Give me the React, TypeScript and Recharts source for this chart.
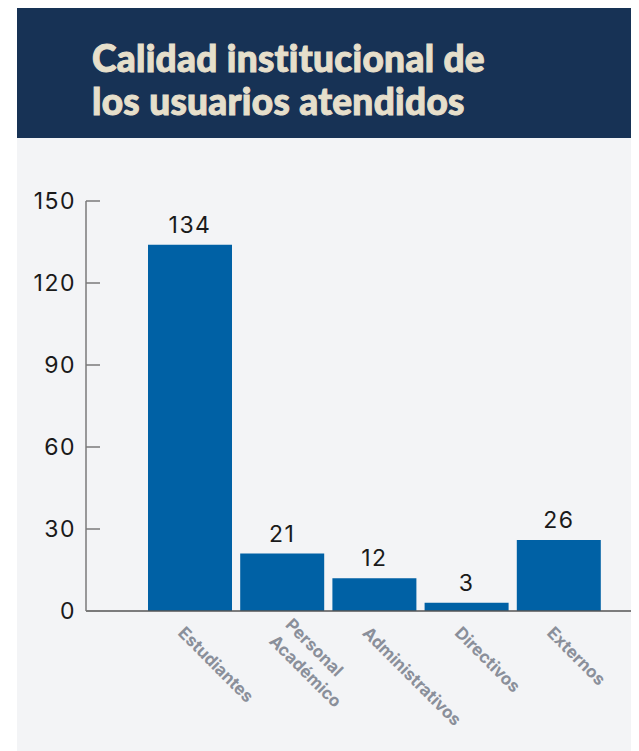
import React from 'react';
import { BarChart, Bar, XAxis, YAxis, LabelList } from 'recharts';

const categories = ['Estudiantes', 'Personal\nAcadémico', 'Administrativos', 'Directivos', 'Externos'];
const values = [134, 21, 12, 3, 26];
const yTicks = [0, 30, 60, 90, 120, 150];
const titleLines = ['Calidad institucional de', 'los usuarios atendidos'];

const data = categories.map((c, i) => ({ name: c, value: values[i] }));

const NUM_FONT = 'Inter, "Noto Sans", sans-serif';

const YTick = (props: any) => {
  const { x, y, payload } = props;
  return (
    <g>
      <line x1={x} x2={x + 14} y1={y} y2={y} stroke="#7a7a7a" strokeWidth={1.5} />
      <text x={x - 10} y={y} dy="0.36em" textAnchor="end" fontFamily={NUM_FONT} fontSize={23} letterSpacing={1.5} fill="#1a1a1a">
        {payload.value}
      </text>
    </g>
  );
};

const EndTick = (props: any) => {
  const { x, y } = props;
  return <line x1={x} x2={x} y1={y} y2={y - 10} stroke="#555" strokeWidth={1.5} />;
};

const XTick = (props: any) => {
  const { x, y, payload } = props;
  const lines = String(payload.value).split('\n');
  const lh = 23;
  const dx = lines.length > 1 ? -6 : -13;
  return (
    <text
      transform={`translate(${x + dx},${y + 23}) rotate(45)`}
      textAnchor="start"
      fontFamily={NUM_FONT}
      fontWeight={700}
      fontSize={17}
      fill="#8a8f9a"
    >
      {lines.map((l, i) => (
        <tspan key={i} x={0} dy={i === 0 ? (-(lines.length - 1) / 2) * lh : lh}>
          {l}
        </tspan>
      ))}
    </text>
  );
};

export default function App() {
  return (
    <div style={{ position: 'relative', width: 631, height: 743 }}>
      <div
        style={{
          position: 'absolute',
          left: 9,
          top: 0,
          width: 622,
          height: 130,
          background: '#173255',
        }}
      >
        <div
          style={{
            position: 'absolute',
            left: 75,
            top: 28,
            fontFamily: 'Lato, sans-serif',
            fontWeight: 900,
            fontSize: 37,
            lineHeight: '43px',
            letterSpacing: 0.3,
            color: '#e6dfcb',
            WebkitTextStroke: '1px #e6dfcb',
            whiteSpace: 'nowrap',
          }}
        >
          {titleLines.map((t, i) => (
            <div key={i}>{t}</div>
          ))}
        </div>
      </div>
      <div
        style={{
          position: 'absolute',
          left: 9,
          top: 130,
          width: 622,
          height: 613,
          background: '#f3f4f6',
        }}
      >
        <BarChart
          width={622}
          height={612}
          data={data}
          margin={{ top: 63, right: 0, bottom: 0, left: 0 }}
        >
          <XAxis
            dataKey="name"
            height={139}
            tickSize={0}
            tickMargin={0}
            tickLine={false}
            interval={0}
            padding={{ left: 58, right: 31 }}
            axisLine={{ stroke: '#555', strokeWidth: 1.5 }}
            tick={<XTick />}
          />
          <YAxis
            width={69}
            domain={[0, 150]}
            ticks={yTicks}
            interval={0}
            tickSize={0}
            tickMargin={0}
            tickLine={false}
            axisLine={{ stroke: '#7a7a7a', strokeWidth: 1.5 }}
            tick={<YTick />}
          />
          <YAxis
            yAxisId="r"
            orientation="right"
            width={3}
            domain={[0, 150]}
            ticks={[0]}
            interval={0}
            tickSize={0}
            tickMargin={0}
            tickLine={false}
            axisLine={false}
            tick={<EndTick />}
          />
          <Bar dataKey="value" fill="#0061a5" barSize={84} isAnimationActive={false}>
            <LabelList
              dataKey="value"
              position="top"
              offset={12}
              fontFamily={NUM_FONT}
              fontSize={23}
              letterSpacing={1.5}
              fill="#1a1a1a"
            />
          </Bar>
        </BarChart>
      </div>
    </div>
  );
}
